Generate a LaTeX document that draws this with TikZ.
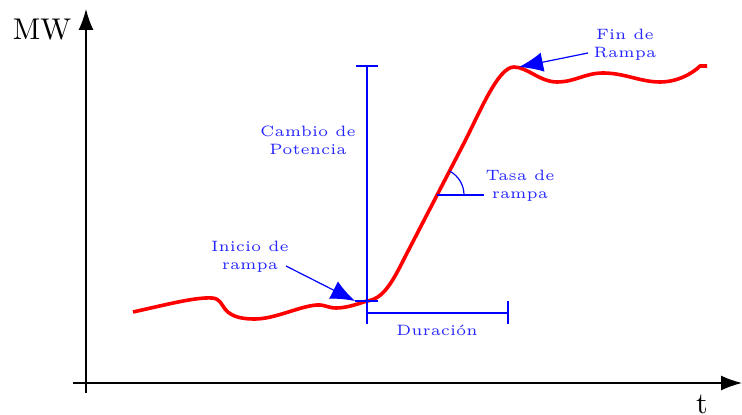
\documentclass[tikz,border=0pt]{standalone}
\usetikzlibrary{arrows.meta}
\begin{document}
\begin{tikzpicture}[x=0.3333pt,y=0.3333pt,
  axisline/.style={black,line width=0.45pt,-{Latex[length=7pt,width=5pt]}},
  bluel/.style={blue,line width=0.4pt},
  bluearrow/.style={blue,line width=0.4pt,-{Latex[length=8pt,width=6.5pt]}},
  lab/.style={font=\tiny,text=blue!85!white,align=center,inner sep=0pt},
  ramp/.style={red,line width=1.2pt,line join=round}]
\useasboundingbox (0,0) rectangle (742,415);
% axes
\coordinate (yb) at (86,22);
\coordinate (yt) at (86,406);
\coordinate (xl) at (73,32);
\coordinate (xr) at (742,32);
\draw[axisline] (yb) -- (yt);
\draw[axisline] (xl) -- (xr);
\node[inner sep=0pt] (mw) at (42,385) {MW};
\node[inner sep=0pt] (t) at (702,11) {t};
% curve
\draw[ramp] (133,103) .. controls (165,110) and (195,118) .. (212,117)
 .. controls (220,116.5) and (221,111) .. (225,106)
 .. controls (232,97) and (245,96) .. (255,96)
 .. controls (275,96) and (300,109) .. (317,110)
 .. controls (325,110.5) and (328,107) .. (336,107)
 .. controls (348,107) and (360,112) .. (367,114)
 .. controls (383,116) and (392,132) .. (405,158)
 -- (463,270)
 .. controls (480,303) and (498,348) .. (514,348)
 .. controls (527,348) and (540,333) .. (557,333)
 .. controls (575,333) and (585,342) .. (603,342)
 .. controls (625,342) and (640,333) .. (660,333)
 .. controls (678,333) and (693,342) .. (700,349) -- (707,349);
% cambio de potencia
\coordinate (vtop) at (367,349);
\coordinate (vbot) at (367,91);
\coordinate (tl) at (356,349);
\coordinate (tr) at (378,349);
\draw[bluel] (vtop) -- (vbot);
\draw[bluel] (tl) -- (tr);
\node[lab] (cambio) at (308,275) {Cambio de\\Potencia};
% duracion
\coordinate (dl) at (367,102);
\coordinate (dr) at (508,102);
\coordinate (dt) at (508,114);
\coordinate (db) at (508,91);
\draw[bluel] (dl) -- (dr);
\draw[bluel] (dt) -- (db);
\node[lab] (dur) at (437,85) {Duraci\'on};
% inicio
\coordinate (sl) at (355,114);
\coordinate (sr) at (378,114);
\draw[bluel] (sl) -- (sr);
\node[lab] (inicio) at (250,158) {Inicio de\\rampa};
\coordinate (ia) at (286,149);
\draw[bluearrow] (ia) -- (sl);
% tasa
\coordinate (tc) at (437,220);
\coordinate (te) at (484,220);
\draw[bluel] (tc) -- (te);
\draw[bluel] (464,220) arc[start angle=0,end angle=62,radius=27];
\node[lab] (tasa) at (520,229) {Tasa de\\rampa};
% fin
\coordinate (fa) at (588,362);
\coordinate (fb) at (519,348);
\draw[bluearrow] (fa) -- (fb);
\node[lab] (fin) at (625,370) {Fin de\\Rampa};
\end{tikzpicture}
\end{document}
